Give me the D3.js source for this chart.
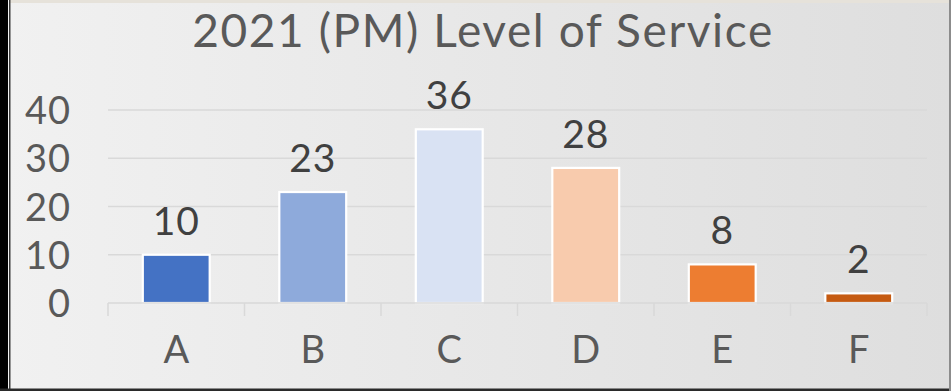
<!DOCTYPE html>
<html>
<head>
<meta charset="utf-8">
<script src="https://cdn.jsdelivr.net/npm/d3@7"></script>
<style>
  html, body { margin: 0; padding: 0; background: #ffffff; }
  svg { display: block; }
</style>
</head>
<body>
<svg id="chart" width="951" height="391"></svg>
<script>
// Level-of-service counts for the PM peak, 2021
const categories = ["A", "B", "C", "D", "E", "F"];
const counts = [10, 23, 36, 28, 8, 2];
const barColors = ["#4472c4", "#8eaadb", "#d9e2f3", "#f8cbad", "#ed7d31", "#c55a11"];
const yTicks = [0, 10, 20, 30, 40];
const titleText = "2021 (PM) Level of Service";

const W = 951, H = 391;
const svg = d3.select("#chart");
const font = "Lato, 'Open Sans', sans-serif";

// Background panel with a soft left-to-right gradient
const defs = svg.append("defs");
const grad = defs.append("linearGradient").attr("id", "bg").attr("x1", 0).attr("x2", 1).attr("y1", 0).attr("y2", 0);
grad.append("stop").attr("offset", "0%").attr("stop-color", "#f1f1f1");
grad.append("stop").attr("offset", "100%").attr("stop-color", "#dedede");

svg.append("rect").attr("x", 0).attr("y", 0).attr("width", W).attr("height", H).attr("fill", "url(#bg)");
svg.append("rect").attr("x", 0).attr("y", 0).attr("width", W).attr("height", 3).attr("fill", "#e6e2da");

// Frame edges
svg.append("rect").attr("x", 0).attr("y", 0).attr("width", 8).attr("height", H).attr("fill", "#000");
svg.append("rect").attr("x", 8).attr("y", 0).attr("width", 1).attr("height", H).attr("fill", "#f4f4f4");
svg.append("rect").attr("x", 9).attr("y", 0).attr("width", 1.5).attr("height", H).attr("fill", "#3a3a3a");
svg.append("rect").attr("x", 0).attr("y", 388.5).attr("width", W).attr("height", 2.5).attr("fill", "#2a2a2a");
svg.append("rect").attr("x", 949).attr("y", 0).attr("width", 2).attr("height", H).attr("fill", "#8c8c8c");

// Scales
const x = d3.scaleBand().domain(categories).range([108, 927]).paddingInner(0.51).paddingOuter(0.255);
const y = d3.scaleLinear().domain([0, 40]).range([303, 110]);

// Gridlines
svg.append("g").selectAll("line")
  .data(yTicks.filter(d => d > 0))
  .join("line")
  .attr("x1", 108).attr("x2", 927)
  .attr("y1", d => y(d)).attr("y2", d => y(d))
  .attr("stroke", "#d9d9d9").attr("stroke-width", 1.3);

// Y axis labels
const yAxis = d3.axisLeft(y).tickValues(yTicks).tickSize(0).tickPadding(0);
const yg = svg.append("g").attr("transform", "translate(71,0)").call(yAxis);
yg.select(".domain").remove();
yg.selectAll("text")
  .attr("font-family", font).attr("font-size", 38).attr("fill", "#595959")
  .attr("letter-spacing", 1)
  .attr("dy", "0.36em");

// Bars
svg.append("g").selectAll("rect")
  .data(categories.map((c, i) => ({ c, v: counts[i], color: barColors[i] })))
  .join("rect")
  .attr("x", d => x(d.c))
  .attr("y", d => y(d.v))
  .attr("width", x.bandwidth())
  .attr("height", d => y(0) - y(d.v))
  .attr("fill", d => d.color)
  .attr("stroke", "#ffffff").attr("stroke-width", 2.2);

// Category axis: baseline and boundary ticks
const xAxis = d3.axisBottom(x).tickSize(0).tickPadding(0);
const xg = svg.append("g").attr("transform", `translate(0,${y(0)})`).call(xAxis);
xg.select(".domain").remove();
xg.selectAll("text")
  .attr("font-family", font).attr("font-size", 38).attr("fill", "#595959")
  .attr("dy", "1.58em");

svg.append("line")
  .attr("x1", 108).attr("x2", 927).attr("y1", y(0)).attr("y2", y(0))
  .attr("stroke", "#d9d9d9").attr("stroke-width", 1.5);
const bounds = d3.range(categories.length + 1).map(i => 108 + i * (927 - 108) / categories.length);
svg.append("g").selectAll("line")
  .data(bounds)
  .join("line")
  .attr("x1", d => d).attr("x2", d => d)
  .attr("y1", y(0)).attr("y2", y(0) + 13)
  .attr("stroke", "#d9d9d9").attr("stroke-width", 1.5);

// Value labels above bars
svg.append("g").selectAll("text")
  .data(categories.map((c, i) => ({ c, v: counts[i] })))
  .join("text")
  .attr("x", d => x(d.c) + x.bandwidth() / 2)
  .attr("y", d => y(d.v) - 20)
  .attr("text-anchor", "middle")
  .attr("font-family", font).attr("font-size", 39).attr("fill", "#404040")
  .attr("letter-spacing", 1)
  .text(d => d.v);

// Title
svg.append("text")
  .attr("x", 483).attr("y", 47)
  .attr("text-anchor", "middle")
  .attr("font-family", font).attr("font-size", 46).attr("fill", "#595959")
  .attr("letter-spacing", 1.6)
  .text(titleText);
</script>
</body>
</html>
